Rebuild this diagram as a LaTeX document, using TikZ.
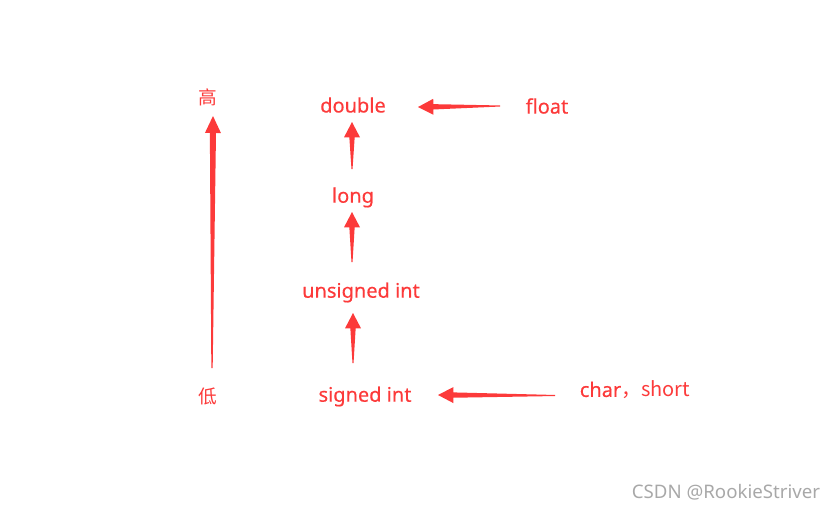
\documentclass[tikz,border=0pt]{standalone}
\usepackage{fontspec}
\setmainfont{Noto Sans}
\newfontfamily\lblfont[FakeBold=0.3]{Noto Sans}
\newfontfamily\cjk{Noto Sans CJK SC}
\usetikzlibrary{calc}
\definecolor{redc}{RGB}{252,58,58}
\definecolor{wmgray}{RGB}{168,168,168}
\tikzset{
  lbl/.style={text=redc, font=\lblfont\fontsize{15}{18}\selectfont, inner sep=0pt},
  cjklbl/.style={text=redc, font=\cjk\fontsize{14}{16}\selectfont, inner sep=0pt},
  taper/.style n args={2}{to path={
    let \p1=($(\tikztostart)+#1$), \p2=($(\tikztotarget)+#2$), \p3=($(\p2)!\hlen!(\p1)$) in
    ($(\p1)!\tw!90:(\p2)$) -- ($(\p3)!\sw!90:(\p2)$) -- ($(\p3)!\hw!90:(\p2)$) -- (\p2)
    -- ($(\p3)!\hw!-90:(\p2)$) -- ($(\p3)!\sw!-90:(\p2)$) -- ($(\p1)!\tw!-90:(\p2)$) -- cycle}},
  arrsmall/.style={fill=redc, /utils/exec={\def\hlen{11.5pt}\def\hw{6pt}\def\sw{2pt}\def\tw{0.4pt}}},
  arrbig/.style={fill=redc, /utils/exec={\def\hlen{12.75pt}\def\hw{6pt}\def\sw{2.3pt}\def\tw{0.5pt}}},
}
\begin{document}
\begin{tikzpicture}[x=0.75pt, y=-0.75pt]
\useasboundingbox (0,0) rectangle (838,510);
% nodes
\node[cjklbl] (hi) at (208,97) {高};
\node[cjklbl] (lo) at (208,396) {低};
\node[lbl] (double) at (353,105) {double};
\node[lbl] (long) at (353,197.5) {long};
\node[lbl] (unsigned) at (361,292.5) {unsigned int};
\node[lbl] (signed) at (365,396.5) {signed int};
\node[lbl] (float) at (547,106) {float};
\node[lbl] (charshort) at (635,390) {char\cjk{，}short};
\node[text=wmgray, font=\fontsize{14}{16}\selectfont, inner sep=0pt] (wm) at (726,492) {CSDN @RookieStriver};
% arrows
\path[arrbig] (lo) to[taper={(4,-28)}{(5,19)}] (hi);
\path[arrsmall] (long) to[taper={(-1,-28.5)}{(-1,17)}] (double);
\path[arrsmall] (unsigned) to[taper={(-9,-30.5)}{(-1,14.5)}] (long);
\path[arrsmall] (signed) to[taper={(-12,-33.5)}{(-8,20.5)}] (unsigned);
\path[arrsmall] (float) to[taper={(-47,0)}{(65,2)}] (double);
\path[arrsmall] (charshort) to[taper={(-80,5.5)}{(73,-1.5)}] (signed);
\end{tikzpicture}
\end{document}
